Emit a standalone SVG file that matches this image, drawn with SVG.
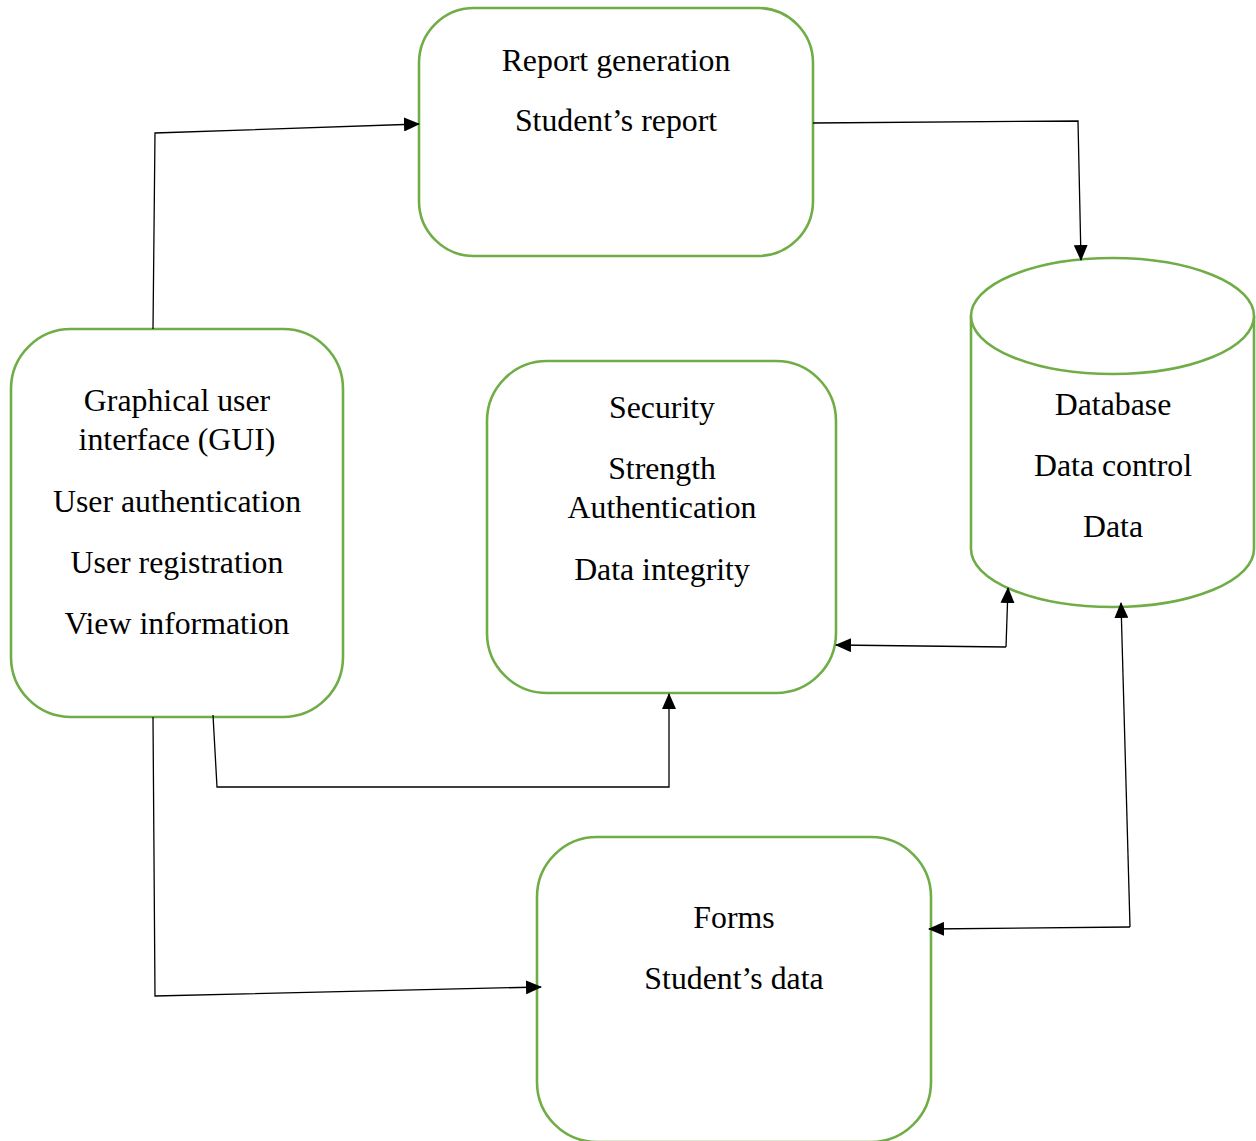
<svg xmlns="http://www.w3.org/2000/svg" width="1256" height="1141" viewBox="0 0 1256 1141">
<style>
.node{fill:#fff;stroke:#70AD47;stroke-width:2.6}
.t{font-family:"Liberation Serif","Times New Roman",serif;font-size:31.8px;fill:#000;text-anchor:middle}
.c{fill:none;stroke:#000;stroke-width:1.3}
</style>
<defs>
<marker id="ah" viewBox="0 0 16 14" refX="15" refY="7" markerWidth="16" markerHeight="14" markerUnits="userSpaceOnUse" orient="auto">
<path d="M0,0 L16,7 L0,14 Z" fill="#000"/>
</marker>
</defs>
<rect width="1256" height="1141" fill="#fff"/>
<g id="report">
<rect class="node" x="419" y="8" width="394" height="248" rx="55" ry="55"/>
<text class="t" x="616" y="71">Report generation</text>
<text class="t" x="616" y="131">Student’s report</text>
</g>
<g id="gui">
<rect class="node" x="11" y="329" width="332" height="388" rx="60" ry="60"/>
<text class="t" x="177" y="411">Graphical user</text>
<text class="t" x="177" y="450">interface (GUI)</text>
<text class="t" x="177" y="512">User authentication</text>
<text class="t" x="177" y="573">User registration</text>
<text class="t" x="177" y="634">View information</text>
</g>
<g id="security">
<rect class="node" x="487" y="361" width="349" height="332" rx="60" ry="60"/>
<text class="t" x="662" y="418">Security</text>
<text class="t" x="662" y="479">Strength</text>
<text class="t" x="662" y="518">Authentication</text>
<text class="t" x="662" y="580">Data integrity</text>
</g>
<g id="database">
<path class="node" d="M971,316 L971,549 A141.5,58 0 0 0 1254,549 L1254,316 A141.5,58 0 0 0 971,316 Z"/>
<path class="node" fill="none" d="M971,316 A141.5,58 0 0 0 1254,316"/>
<text class="t" x="1113" y="415">Database</text>
<text class="t" x="1113" y="476">Data control</text>
<text class="t" x="1113" y="537">Data</text>
</g>
<g id="forms">
<rect class="node" x="537" y="837" width="394" height="305" rx="60" ry="60"/>
<text class="t" x="734" y="928">Forms</text>
<text class="t" x="734" y="989">Student’s data</text>
</g>
<g id="connectors">
<path class="c" d="M153,329 L155,133 L419,124" marker-end="url(#ah)"/>
<path class="c" d="M813,123 L1078,121 L1081,260" marker-end="url(#ah)"/>
<path class="c" d="M213,715 L217,787 L669,787 L669,694" marker-end="url(#ah)"/>
<path class="c" d="M153,717 L155,996 L541,987" marker-end="url(#ah)"/>
<path class="c" d="M1006,647 L836,645" marker-end="url(#ah)"/>
<path class="c" d="M1006,647 L1008,588" marker-end="url(#ah)"/>
<path class="c" d="M1130,927 L929,929" marker-end="url(#ah)"/>
<path class="c" d="M1130,927 L1121,603" marker-end="url(#ah)"/>
</g>
</svg>
